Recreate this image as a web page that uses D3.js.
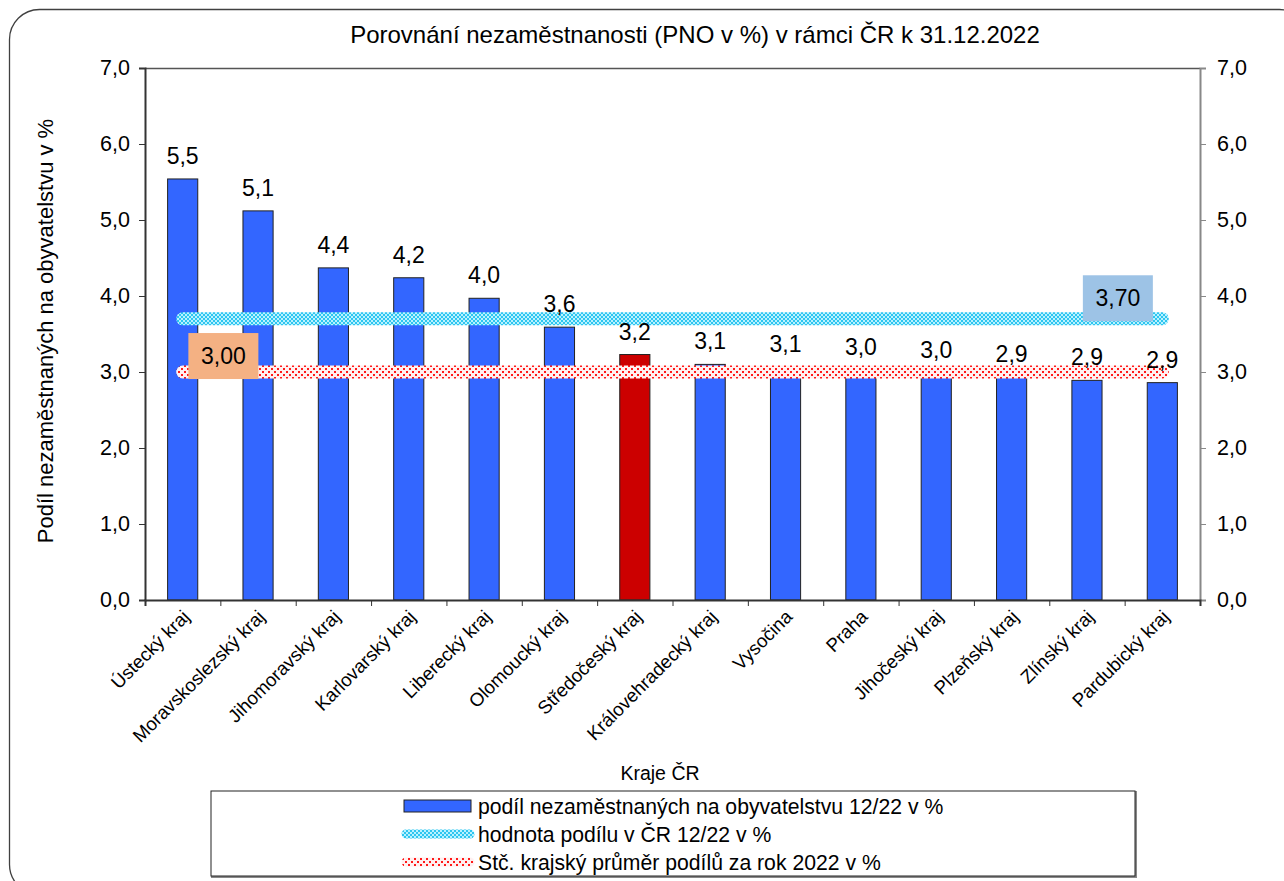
<!DOCTYPE html>
<html>
<head>
<meta charset="utf-8">
<script src="https://cdn.jsdelivr.net/npm/d3@7"></script>
<style>
  body { margin: 0; background: #fff; }
  svg { font-family: "Liberation Sans", Arial, sans-serif; }
</style>
</head>
<body>
<svg id="chart" width="1284" height="881"></svg>
<script>
// data
const regions = ["Ústecký kraj","Moravskoslezský kraj","Jihomoravský kraj","Karlovarský kraj","Liberecký kraj","Olomoucký kraj","Středočeský kraj","Královehradecký kraj","Vysočina","Praha","Jihočeský kraj","Plzeňský kraj","Zlínský kraj","Pardubický kraj"];
const shares = [5.54, 5.12, 4.37, 4.24, 3.97, 3.59, 3.23, 3.10, 3.07, 3.03, 2.99, 2.94, 2.89, 2.86];
const highlight = "Středočeský kraj";
const crValue = 3.70;
const avgValue = 3.00;
const yTicks = [0,1,2,3,4,5,6,7];
const legendLabels = ["podíl nezaměstnaných na obyvatelstvu 12/22 v %","hodnota podílu v ČR 12/22 v %","Stč. krajský průměr podílů za rok 2022 v %"];

const fmt1 = d => d.toFixed(1).replace(".", ",");
const fmt2 = d => d.toFixed(2).replace(".", ",");

const svg = d3.select("#chart");
const margin = {top: 68, left: 145, right: 84, bottom: 281};
const W = 1284, H = 881;
const plotW = W - margin.left - margin.right;
const plotH = H - margin.top - margin.bottom;

// patterns for the two reference lines
const defs = svg.append("defs");
const pc = defs.append("pattern").attr("id","cyanPat").attr("width",4).attr("height",4).attr("patternUnits","userSpaceOnUse");
pc.append("rect").attr("width",4).attr("height",4).attr("fill","#b8f2ff");
pc.append("rect").attr("width",2).attr("height",2).attr("fill","#2ec5f0");
pc.append("rect").attr("x",2).attr("y",2).attr("width",2).attr("height",2).attr("fill","#2ec5f0");
const pr = defs.append("pattern").attr("id","redPat").attr("width",6).attr("height",6).attr("patternUnits","userSpaceOnUse");
pr.append("rect").attr("width",6).attr("height",6).attr("fill","#fff0f0");
pr.append("rect").attr("width",2).attr("height",2).attr("fill","#ff1a1a");
pr.append("rect").attr("x",3).attr("y",3).attr("width",2).attr("height",2).attr("fill","#ff1a1a");

// outer rounded frame
svg.append("rect").attr("x",9.5).attr("y",9.5).attr("width",1300).attr("height",885)
  .attr("rx",30).attr("fill","none").attr("stroke","#404040").attr("stroke-width",1.3);

const g = svg.append("g").attr("transform",`translate(${margin.left},${margin.top})`);

const x = d3.scaleBand().domain(regions).range([0, plotW]).paddingInner(0.6).paddingOuter(0.3);
const xpos = d3.scaleLinear().domain([0, regions.length]).range([0, plotW]);
const y = d3.scaleLinear().domain([0,7]).range([plotH, 0]);
const xc = d => x(d) + x.bandwidth()/2;

// bars
g.selectAll(".bar").data(regions).enter().append("rect")
  .attr("class","bar")
  .attr("x", d => x(d))
  .attr("width", x.bandwidth())
  .attr("y", (d,i) => y(shares[i]))
  .attr("height", (d,i) => plotH - y(shares[i]))
  .attr("fill", d => d === highlight ? "#cc0000" : "#3366ff")
  .attr("stroke","#222").attr("stroke-width",1);

// reference lines, from first to last category
const lines = [
  {v: crValue, pat: "url(#cyanPat)"},
  {v: avgValue, pat: "url(#redPat)"}
];
g.selectAll(".refline").data(lines).enter().append("line")
  .attr("x1", xc(regions[0])).attr("x2", xc(regions[regions.length-1]))
  .attr("y1", d => y(d.v)).attr("y2", d => y(d.v))
  .attr("stroke", d => d.pat).attr("stroke-width",13).attr("stroke-linecap","round");

// bar labels
g.selectAll(".blabel").data(regions).enter().append("text")
  .attr("x", d => xc(d))
  .attr("y", (d,i) => y(shares[i]) - 15)
  .attr("text-anchor","middle").attr("font-size",23).attr("fill","#000")
  .text((d,i) => fmt1(shares[i]));

// value boxes
const boxes = [
  {v: crValue, cx: 12.91, cy: 3.97, fill: "#9dc3e6"},
  {v: avgValue, cx: 1.04, cy: 3.21, fill: "#f4b183"}
];
boxes.forEach(b => {
  g.append("rect").attr("x", xpos(b.cx) - 35).attr("y", y(b.cy) - 23)
    .attr("width",70).attr("height",46).attr("fill",b.fill);
  g.append("text").attr("x", xpos(b.cx)).attr("y", y(b.cy) + 8)
    .attr("text-anchor","middle").attr("font-size",23).text(fmt2(b.v));
});

// plot border top
g.append("line").attr("x1",0).attr("x2",plotW).attr("y1",0.5).attr("y2",0.5).attr("stroke","#555").attr("stroke-width",1.5);

// axes
const left = g.append("g").call(d3.axisLeft(y).tickValues(yTicks).tickFormat(fmt1).tickSizeOuter(0).tickSize(6).tickPadding(9));
left.select(".domain").attr("stroke","#333").attr("stroke-width",2);
left.selectAll("line").attr("stroke","#333");
left.selectAll("text").attr("font-size",21.5).attr("fill","#000").attr("font-family","Liberation Sans, Arial");

const right = g.append("g").attr("transform",`translate(${plotW},0)`)
  .call(d3.axisRight(y).tickValues(yTicks).tickFormat(fmt1).tickSizeOuter(0).tickSize(6).tickPadding(11));
right.select(".domain").attr("stroke","#888").attr("stroke-width",2);
right.selectAll("line").attr("stroke","#888");
right.selectAll("text").attr("font-size",21.5).attr("fill","#000").attr("font-family","Liberation Sans, Arial");

const bottom = g.append("g").attr("transform",`translate(0,${plotH})`)
  .call(d3.axisBottom(xpos).tickValues(d3.range(0, regions.length + 1)).tickFormat("").tickSizeOuter(0).tickSize(6));
bottom.select(".domain").attr("stroke","#333").attr("stroke-width",2);
bottom.selectAll("line").attr("stroke","#333");

g.selectAll(".xlabel").data(regions).enter().append("text")
  .attr("transform", d => `translate(${xc(d) + 8},${plotH + 18}) rotate(-45)`)
  .attr("text-anchor","end").attr("font-size",18.7).attr("fill","#000")
  .text(d => d);

// titles
svg.append("text").attr("x",695).attr("y",43).attr("text-anchor","middle").attr("font-size",24).text("Porovnání nezaměstnanosti (PNO v %) v rámci ČR k 31.12.2022");
svg.append("text").attr("transform","translate(53,331) rotate(-90)").attr("text-anchor","middle").attr("font-size",22).text("Podíl nezaměstnaných na obyvatelstvu v %");
svg.append("text").attr("x",660).attr("y",780).attr("text-anchor","middle").attr("font-size",19.5).text("Kraje ČR");

// legend
const lg = svg.append("g");
lg.append("rect").attr("x",212).attr("y",792).attr("width",924).attr("height",85).attr("fill","#fff").attr("stroke","#888").attr("stroke-width",2);
lg.append("rect").attr("x",211).attr("y",791).attr("width",924).attr("height",85).attr("fill","#fff").attr("stroke","#222").attr("stroke-width",1);
const ly = [806, 834, 862];
lg.append("rect").attr("x",404).attr("y",ly[0]-6).attr("width",67).attr("height",12).attr("fill","#3366ff").attr("stroke","#222");
lg.append("line").attr("x1",406).attr("x2",470).attr("y1",ly[1]).attr("y2",ly[1]).attr("stroke","url(#cyanPat)").attr("stroke-width",9).attr("stroke-linecap","round");
lg.append("line").attr("x1",406).attr("x2",470).attr("y1",ly[2]).attr("y2",ly[2]).attr("stroke","url(#redPat)").attr("stroke-width",9).attr("stroke-linecap","round");
lg.selectAll(".ltext").data(legendLabels).enter().append("text")
  .attr("x",478).attr("y",(d,i) => ly[i] + 7.5).attr("font-size",21.2).text(d => d);
</script>
</body>
</html>
